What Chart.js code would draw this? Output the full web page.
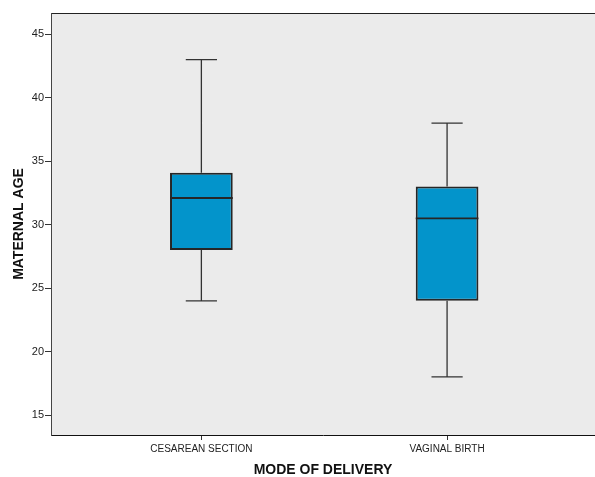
<!DOCTYPE html>
<html>
<head>
<meta charset="utf-8">
<script src="https://cdn.jsdelivr.net/npm/chart.js@4/dist/chart.umd.min.js"></script>
<style>
  html, body { margin: 0; padding: 0; background: #ffffff; }
  #wrap { width: 595px; height: 477px; }
</style>
</head>
<body>
<div id="wrap"><canvas id="c" width="595" height="477"></canvas></div>
<script>
// ---- data ----
const categories = ['CESAREAN SECTION', 'VAGINAL BIRTH'];
const minVals    = [24, 18];
const q1Vals     = [28, 24];
const medianVals = [32.1, 30.5];
const q3Vals     = [34.1, 33];
const maxVals    = [43, 38];
const yTickValues = [15, 20, 25, 30, 35, 40, 45];

// ---- styling constants ----
const BOX_HALF = 0.1276;   // half box width in category units
const CAP_HALF = 0.0635;   // half whisker-cap width in category units
const BOX_COLOR = '#0394cb';
const LINE_COLOR = '#262626';

const gap = (x) => ({ x: x, y: null });

const boxData = categories.map((c, i) => ({ x: i + 1, y: [q1Vals[i], q3Vals[i]] }));

const medianData = [];
categories.forEach((c, i) => {
  medianData.push({ x: i + 1 - BOX_HALF, y: medianVals[i] });
  medianData.push({ x: i + 1 + BOX_HALF, y: medianVals[i] });
  medianData.push(gap(i + 1));
});

const whiskerData = [];
categories.forEach((c, i) => {
  const x = i + 1;
  whiskerData.push({ x, y: q3Vals[i] }, { x, y: maxVals[i] }, gap(x));
  whiskerData.push({ x, y: q1Vals[i] }, { x, y: minVals[i] }, gap(x));
  whiskerData.push({ x: x - CAP_HALF, y: maxVals[i] }, { x: x + CAP_HALF, y: maxVals[i] }, gap(x));
  whiskerData.push({ x: x - CAP_HALF, y: minVals[i] }, { x: x + CAP_HALF, y: minVals[i] }, gap(x));
});

const plotFrame = {
  id: 'plotFrame',
  beforeDraw(chart) {
    const { ctx, chartArea: a } = chart;
    ctx.save();
    ctx.fillStyle = '#ebebeb';
    ctx.fillRect(a.left, a.top, a.right - a.left, a.bottom - a.top);
    ctx.strokeStyle = '#222222';
    ctx.lineWidth = 1;
    ctx.beginPath();
    ctx.moveTo(a.left, a.top + 0.5);
    ctx.lineTo(a.right, a.top + 0.5);
    ctx.stroke();
    ctx.restore();
  }
};

new Chart(document.getElementById('c'), {
  type: 'bar',
  data: {
    datasets: [
      {
        type: 'scatter',
        label: 'whiskers',
        data: whiskerData,
        showLine: true,
        spanGaps: false,
        borderColor: '#333333',
        borderWidth: 1.3,
        pointRadius: 0,
        pointHoverRadius: 0,
        order: 3
      },
      {
        type: 'bar',
        label: 'box',
        data: boxData,
        backgroundColor: BOX_COLOR,
        borderColor: LINE_COLOR,
        borderWidth: 2,
        borderSkipped: false,
        categoryPercentage: 1,
        barPercentage: 0.2552,
        order: 2
      },
      {
        type: 'scatter',
        label: 'median',
        data: medianData,
        showLine: true,
        spanGaps: false,
        borderColor: LINE_COLOR,
        borderWidth: 1.8,
        pointRadius: 0,
        pointHoverRadius: 0,
        order: 1
      }
    ]
  },
  options: {
    responsive: false,
    animation: false,
    devicePixelRatio: 1,
    layout: { padding: { top: 13, right: 0, bottom: 0, left: 0 } },
    plugins: { legend: { display: false }, tooltip: { enabled: false } },
    scales: {
      x: {
        type: 'linear',
        min: 0.388,
        max: 2.602,
        offset: false,
        afterBuildTicks(scale) { scale.ticks = categories.map((c, i) => ({ value: i + 1 })); },
        afterFit(scale) { scale.height = 42; },
        ticks: {
          callback: (v) => categories[Math.round(v) - 1] || '',
          font: { family: '"Liberation Sans Narrow", "Liberation Sans", Arial, sans-serif', size: 10 },
          color: '#222222',
          padding: 3,
          maxRotation: 0,
          autoSkip: false
        },
        grid: { offset: false, drawOnChartArea: false, drawTicks: true, tickLength: 5, color: '#333333' },
        border: { display: true, color: '#111111', width: 1 },
        title: {
          display: true,
          text: 'MODE OF DELIVERY',
          font: { family: '"Liberation Sans", Arial, sans-serif', size: 14, weight: 'bold', lineHeight: 1 },
          color: '#111111',
          padding: { top: 0, bottom: 0 }
        }
      },
      y: {
        type: 'linear',
        min: 13.424,
        max: 46.68,
        afterBuildTicks(scale) { scale.ticks = yTickValues.map(v => ({ value: v })); },
        afterFit(scale) { scale.width = 51; },
        ticks: {
          font: { family: '"Liberation Sans", Arial, sans-serif', size: 11 },
          color: '#222222',
          padding: 1
        },
        grid: { drawOnChartArea: false, drawTicks: true, tickLength: 6, color: '#333333' },
        border: { display: true, color: '#444444', width: 1 },
        title: {
          display: true,
          text: 'MATERNAL AGE',
          font: { family: '"Liberation Sans", Arial, sans-serif', size: 14, weight: 'bold', lineHeight: 1 },
          color: '#111111',
          padding: { top: 12, bottom: 0 }
        }
      }
    }
  },
  plugins: [plotFrame]
});
</script>
</body>
</html>
